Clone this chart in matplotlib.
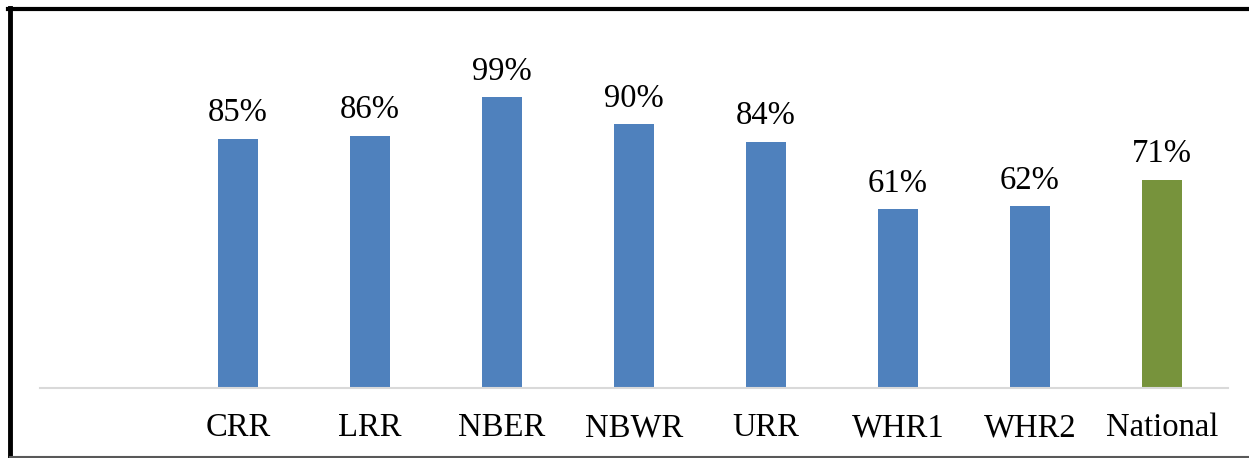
import matplotlib.pyplot as plt
import numpy as np
from matplotlib.lines import Line2D

# Data
categories = ['CRR', 'LRR', 'NBER', 'NBWR', 'URR', 'WHR1', 'WHR2', 'National']
values = [85, 86, 99, 90, 84, 61, 62, 71]
colors = ['#4F81BD'] * 7 + ['#77933C']

plt.rcParams['font.family'] = ['Liberation Serif', 'DejaVu Serif']

fig = plt.figure(figsize=(12.49, 4.58), dpi=100)
W, H = 1249, 458
ax = fig.add_axes([40 / W, 70 / H, (1228 - 40) / W, (388 - 30) / H])

# first category slot is left empty, as in the original
x = np.arange(1, len(categories) + 1)
bars = ax.bar(x, values, width=0.31, color=colors, zorder=2)

for xi, v in zip(x, values):
    ax.text(xi, v + 3.5, f'{v}%', ha='center', va='bottom', fontsize=23.5)

ax.set_xlim(-0.5, len(categories) + 0.5)
ax.set_ylim(0, 122)
ax.set_xticks(x)
ax.set_xticklabels(categories, fontsize=23.5)
ax.tick_params(axis='x', length=0, pad=18)
ax.set_yticks([])
for s in ['left', 'right', 'top']:
    ax.spines[s].set_visible(False)
ax.spines['bottom'].set_color('#D9D9D9')
ax.spines['bottom'].set_linewidth(1.5)

# outer frame (left & top thick black, bottom thin gray)
fig.add_artist(Line2D([10 / W, 10 / W], [0, 1 - 8 / H], color='black', lw=3.5, transform=fig.transFigure))
fig.add_artist(Line2D([8 / W, 1], [1 - 9 / H, 1 - 9 / H], color='black', lw=3, transform=fig.transFigure))
fig.add_artist(Line2D([10 / W, 1], [1.5 / H, 1.5 / H], color='#595959', lw=1.5, transform=fig.transFigure))

fig.savefig('out.png', dpi=100)
